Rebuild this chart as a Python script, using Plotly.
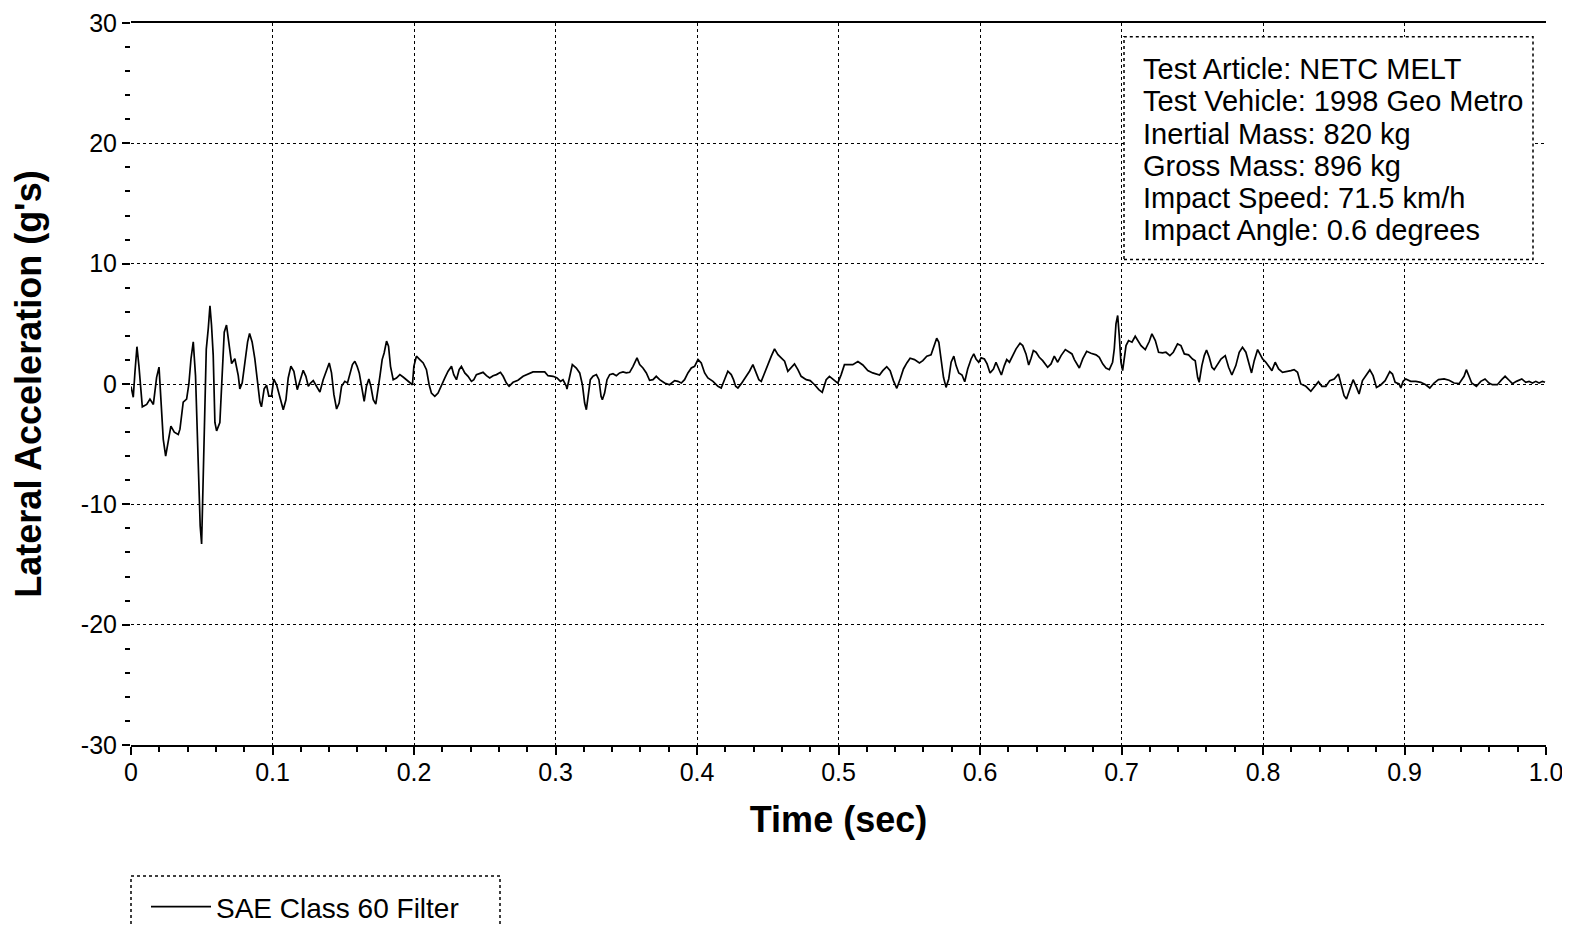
import plotly.graph_objects as go

# ---- data ----
t_a = [0.0000,0.0016,0.0028,0.0042,0.0056,0.0071,0.0080,0.0111,0.0134,0.0158,
       0.0181,0.0198,0.0212,0.0228,0.0245,0.0259,0.0282,0.0306,0.0334,0.0346,
       0.0369,0.0393,0.0409,0.0424,0.0440,0.0456,0.0471,0.0480,0.0489,0.0499,
       0.0508,0.0522,0.0532,0.0546,0.0558,0.0569,0.0581,0.0593,0.0605,0.0628,
       0.0645,0.0659,0.0675,0.0692,0.0711,0.0734,0.0758,0.0769,0.0786,0.0805,
       0.0824,0.0838,0.0856,0.0875,0.0894,0.0911,0.0922,0.0941,0.0958,0.0974,
       0.0993,0.1009]
g_a = [-0.2,-1.1,1.0,3.1,1.5,-0.4,-1.9,-1.7,-1.25,-1.7,
       0.55,1.4,-1.25,-4.6,-6.0,-4.9,-3.5,-4.0,-4.2,-3.75,
       -1.5,-1.25,0.0,2.1,3.5,0.7,-5.1,-8.75,-11.8,-13.3,
       -8.75,-2.4,2.9,4.6,6.5,4.9,2.4,-3.2,-3.9,-3.2,
       1.0,4.3,4.9,3.2,1.7,2.1,0.7,-0.4,0.1,1.8,
       3.5,4.2,3.5,2.1,0.4,-1.5,-1.9,-0.4,-0.1,-1.0,
       -1.0,0.4]

t_b = [0.1029,0.1052,0.1076,0.1095,0.1111,0.1130,0.1151,0.1175,0.1198,0.1217,
       0.1236,0.1253,0.1269,0.1288,0.1311,0.1335,0.1358,0.1382,0.1401,0.1417,
       0.1434,0.1453,0.1471,0.1488,0.1511,0.1530,0.1547,0.1565,0.1582,0.1598,
       0.1613,0.1629,0.1648,0.1664,0.1681,0.1695,0.1712,0.1730,0.1747,0.1759,
       0.1775,0.1789,0.1806,0.1820,0.1834,0.1853,0.1876,0.1900,0.1923,0.1947,
       0.1970,0.1989,0.1999,0.2017,0.2041,0.2065,0.2088,0.2107,0.2123,0.2147,
       0.2170,0.2194,0.2218,0.2241,0.2265,0.2281,0.2300,0.2319,0.2335,0.2359,
       0.2382,0.2406,0.2423,0.2441,0.2465,0.2488,0.2512,0.2535,0.2559,0.2583,
       0.2611,0.2630,0.2653,0.2672,0.2700,0.2735,0.2771,0.2806,0.2841,0.2888,
       0.2924,0.2947,0.2983,0.3011,0.3035,0.3053,0.3077]
g_b = [-0.06,-1.03,-2.14,-1.31,0.5,1.47,1.06,-0.47,0.36,1.14,
       0.64,-0.19,0.08,0.28,-0.19,-0.67,0.36,1.19,1.75,0.92,
       -0.89,-2.08,-1.58,-0.19,0.22,0.08,0.92,1.61,1.89,1.47,
       0.92,-0.06,-1.44,-0.19,0.42,-0.19,-1.31,-1.67,-0.47,0.64,
       2.03,2.58,3.56,3.14,1.47,0.36,0.5,0.78,0.58,0.36,
       0.08,-0.06,1.47,2.31,2.03,1.75,1.19,-0.06,-0.75,-1.03,
       -0.75,-0.06,0.5,1.06,1.47,0.78,0.36,1.19,1.47,0.92,
       0.64,0.22,0.36,0.78,0.86,0.97,0.69,0.5,0.69,0.78,
       0.97,0.64,0.08,-0.19,0.14,0.31,0.64,0.83,1.0,1.0,
       1.0,0.69,0.64,0.5,0.22,0.36,-0.19]

t_c = [0.3081,0.3100,0.3119,0.3147,0.3171,0.3190,0.3206,0.3218,0.3232,0.3246,
       0.3265,0.3289,0.3307,0.3322,0.3331,0.3347,0.3364,0.3383,0.3406,0.3430,
       0.3453,0.3477,0.3500,0.3524,0.3548,0.3576,0.3595,0.3618,0.3642,0.3665,
       0.3689,0.3712,0.3736,0.3771,0.3806,0.3842,0.3865,0.3889,0.3912,0.3936,
       0.3960,0.3983,0.4007,0.4030,0.4054,0.4077,0.4113,0.4148,0.4171,0.4195,
       0.4218,0.4242,0.4258,0.4273,0.4289,0.4313,0.4348,0.4371,0.4395,0.4419,
       0.4437,0.4454,0.4477,0.4501,0.4525,0.4548,0.4572,0.4595,0.4619,0.4642,
       0.4666,0.4689,0.4713,0.4736,0.4772,0.4800,0.4831,0.4861,0.4885,0.4913,
       0.4936,0.4965,0.4995,0.5019,0.5042,0.5078,0.5101]
g_c = [-0.42,0.64,1.61,1.33,0.92,-0.06,-1.58,-2.14,-1.03,0.36,
       0.64,0.78,0.36,-1.03,-1.31,-0.75,0.36,0.78,0.86,0.69,
       0.92,1.0,0.92,0.97,1.47,2.17,1.61,1.33,0.92,0.31,
       0.36,0.64,0.36,0.08,-0.06,0.28,0.22,0.08,0.36,0.92,
       1.33,1.47,2.03,1.75,0.92,0.5,0.22,-0.19,-0.33,0.36,
       1.06,0.78,0.36,-0.19,-0.33,0.03,0.64,1.06,1.61,0.92,
       0.36,0.22,0.92,1.75,2.31,2.92,2.44,2.17,1.89,1.06,
       1.33,1.67,1.19,0.64,0.36,0.28,-0.06,-0.47,-0.69,0.36,
       0.64,0.36,0.08,0.78,1.61,1.61,1.61]

t_d = [0.5137,0.5172,0.5207,0.5242,0.5290,0.5313,0.5341,0.5365,0.5388,0.5412,
       0.5436,0.5459,0.5483,0.5506,0.5537,0.5572,0.5596,0.5624,0.5654,0.5673,
       0.5694,0.5709,0.5725,0.5742,0.5760,0.5779,0.5796,0.5815,0.5831,0.5850,
       0.5873,0.5892,0.5913,0.5937,0.5956,0.5972,0.5991,0.6008,0.6031,0.6050,
       0.6071,0.6095,0.6113,0.6132,0.6151,0.6172,0.6189,0.6208,0.6231,0.6255,
       0.6283,0.6302,0.6325,0.6344,0.6361,0.6377,0.6396,0.6419,0.6443,0.6478,
       0.6502,0.6525,0.6549,0.6573,0.6603,0.6631,0.6650,0.6667,0.6702,0.6726,
       0.6754,0.6784,0.6820,0.6843,0.6867,0.6890,0.6914,0.6937,0.6949,0.6961,
       0.6973,0.6984,0.6996,0.7008,0.7020,0.7032,0.7050,0.7074,0.7097,0.7114,
       0.7138,0.7168,0.7196]
g_d = [1.86,1.58,1.11,0.92,0.75,1.11,1.44,1.11,0.28,-0.36,
       0.42,1.25,1.75,2.14,2.03,1.75,1.94,2.31,2.42,3.06,
       3.81,3.47,2.08,0.56,-0.28,0.42,1.81,2.31,1.53,0.92,
       0.75,0.19,1.25,2.08,2.5,2.08,1.81,2.17,2.08,1.67,
       0.92,1.25,1.81,1.25,0.75,1.53,2.03,1.81,2.36,2.92,
       3.39,3.19,2.5,1.58,2.14,2.78,2.64,2.22,1.94,1.39,
       1.67,2.31,1.81,2.36,2.86,2.64,2.5,2.03,1.33,2.08,
       2.72,2.56,2.42,2.22,1.67,1.33,1.19,1.81,2.92,5.0,
       5.69,4.03,1.81,1.11,2.08,3.19,3.61,3.47,3.97,3.61,
       3.19,2.86,3.53]

t_e = [0.7215,0.7239,0.7262,0.7290,0.7314,0.7342,0.7366,0.7396,0.7420,0.7444,
       0.7474,0.7502,0.7521,0.7538,0.7549,0.7568,0.7585,0.7601,0.7620,0.7639,
       0.7655,0.7679,0.7703,0.7733,0.7757,0.7780,0.7808,0.7832,0.7855,0.7879,
       0.7903,0.7919,0.7938,0.7962,0.7978,0.7997,0.8020,0.8044,0.8063,0.8086,
       0.8110,0.8138,0.8173,0.8197,0.8220,0.8244,0.8267,0.8303,0.8338,0.8362,
       0.8392,0.8416,0.8444,0.8472,0.8503,0.8533,0.8557,0.8573,0.8590,0.8613,
       0.8637,0.8661,0.8679,0.8703,0.8727,0.8755,0.8778,0.8802,0.8832,0.8863,
       0.8896,0.8915,0.8934,0.8962]
g_e = [4.17,3.61,2.64,2.58,2.64,2.36,2.64,3.33,3.19,2.5,
       2.42,2.08,1.94,0.56,0.14,1.53,2.36,2.83,2.22,1.39,
       1.19,1.67,2.08,2.36,1.39,0.75,1.53,2.64,3.06,2.64,
       1.53,0.92,1.94,2.86,2.5,2.08,1.81,1.39,1.11,1.81,
       1.25,0.97,1.03,1.11,1.19,0.97,0.0,-0.19,-0.61,-0.28,
       0.19,-0.19,-0.19,0.28,0.42,0.83,-0.14,-0.97,-1.25,-0.42,
       0.36,-0.28,-0.83,0.28,0.69,1.17,0.69,-0.28,-0.08,0.28,
       1.03,0.83,0.14,0.0]

t_f = [0.8974,0.8990,0.9009,0.9044,0.9080,0.9115,0.9150,0.9179,0.9209,0.9240,
       0.9280,0.9315,0.9350,0.9386,0.9421,0.9437,0.9456,0.9475,0.9508,0.9539,
       0.9569,0.9597,0.9621,0.9656,0.9687,0.9711,0.9739,0.9763,0.9791,0.9829,
       0.9857,0.9880,0.9904,0.9928,0.9951,0.9975,0.9993]
g_f = [-0.33,0.22,0.42,0.22,0.22,0.14,-0.06,-0.33,0.08,0.36,
       0.42,0.31,0.08,0.03,0.64,1.19,0.64,0.08,-0.19,0.22,
       0.42,0.08,-0.06,-0.06,0.36,0.64,0.31,0.03,0.22,0.42,
       0.14,0.22,0.08,0.22,0.08,0.22,0.14]

x_tick_vals = [0, 0.1, 0.2, 0.3, 0.4, 0.5, 0.6, 0.7, 0.8, 0.9, 1.0]
x_tick_text = ["0", "0.1", "0.2", "0.3", "0.4", "0.5", "0.6", "0.7", "0.8", "0.9", "1.0"]
y_tick_vals = [30, 20, 10, 0, -10, -20, -30]
y_tick_text = ["30", "20", "10", "0", "-10", "-20", "-30"]

info_lines = ["Test Article: NETC MELT",
              "Test Vehicle: 1998 Geo Metro",
              "Inertial Mass: 820 kg",
              "Gross Mass: 896 kg",
              "Impact Speed: 71.5 km/h",
              "Impact Angle: 0.6 degrees"]
series_name = "SAE Class 60 Filter"

time_s, lateral_g = [], []
for tt, gg in [(t_a, g_a), (t_b, g_b), (t_c, g_c), (t_d, g_d), (t_e, g_e), (t_f, g_f)]:
    assert len(tt) == len(gg), (len(tt), len(gg))
    time_s += tt
    lateral_g += gg

FONT = "Liberation Sans, Arial, sans-serif"

fig = go.Figure()
fig.add_trace(go.Scatter(x=time_s, y=lateral_g, mode="lines",
                         line=dict(color="black", width=1.7),
                         name=series_name, showlegend=True))

# page geometry: the page body adds an 8px offset; plot area on screen is
# x 131..1546, y 23..745
W, H = 1570, 925
OFF = 8
SX0, SX1, SY0, SY1 = 131, 1546, 23, 745
L, T = SX0 - OFF, SY0 - OFF
R = W - (SX1 - OFF)
B = H - (SY1 - OFF)
pw, ph = SX1 - SX0, SY1 - SY0

def px(x):
    return (x - SX0) / pw

def py(y):
    return (SY1 - y) / ph

fig.update_layout(
    width=W, height=H,
    margin=dict(l=L, r=R, t=T, b=B, pad=0, autoexpand=False),
    paper_bgcolor="white", plot_bgcolor="white",
    font=dict(family=FONT, color="black", size=25),
    showlegend=True,
    legend=dict(x=px(146), y=py(882), xanchor="left", yanchor="top",
                font=dict(size=28, family=FONT, color="black"),
                bgcolor="rgba(0,0,0,0)", borderwidth=0,
                itemwidth=60, entrywidth=330),
)

fig.update_xaxes(
    range=[0, 1], tickmode="array", tickvals=x_tick_vals, ticktext=x_tick_text,
    ticks="outside", ticklen=8, tickwidth=1.5, tickcolor="black",
    tickfont=dict(size=25, family=FONT, color="black"), ticklabelstandoff=-4,
    showgrid=True, gridcolor="black", gridwidth=1, griddash="dot",
    showline=True, linecolor="black", linewidth=2, mirror=True,
    zeroline=False, automargin=False,
    minor=dict(dtick=0.02, tick0=0, ticks="outside", ticklen=5, tickwidth=1.5,
               tickcolor="black", showgrid=False),
    title=dict(text="<b>Time (sec)</b>", font=dict(size=36, family=FONT, color="black"),
               standoff=22),
)
fig.update_yaxes(
    range=[-30, 30], tickmode="array", tickvals=y_tick_vals, ticktext=y_tick_text,
    ticks="outside", ticklen=8, tickwidth=1.5, tickcolor="black",
    tickfont=dict(size=25, family=FONT, color="black"),
    showgrid=True, gridcolor="black", gridwidth=1, griddash="dot",
    showline=False, zeroline=False, automargin=False,
    minor=dict(dtick=2, tick0=0, ticks="outside", ticklen=5, tickwidth=1.5,
               tickcolor="black", showgrid=False),
    title=dict(text="<b>Lateral Acceleration (g's)</b>",
               font=dict(size=36, family=FONT, color="black"), standoff=36),
)

# info box
fig.add_shape(type="rect", xref="paper", yref="paper",
              x0=px(1124), x1=px(1533), y0=py(259.5), y1=py(36.7),
              line=dict(color="black", width=1.5, dash="dot"),
              fillcolor="white", layer="above")
line_top, line_step = 69, 32.3
for i, txt in enumerate(info_lines):
    fig.add_annotation(x=px(1141), y=py(line_top + i * line_step), xref="paper", yref="paper",
                       text=txt, showarrow=False, xanchor="left", yanchor="middle",
                       font=dict(size=29, family=FONT, color="black"))

# legend frame
fig.add_shape(type="rect", xref="paper", yref="paper",
              x0=px(131), x1=px(500), y0=py(945), y1=py(876),
              line=dict(color="black", width=1.5, dash="dot"),
              fillcolor="rgba(0,0,0,0)", layer="above")

fig.write_html("out.html")
